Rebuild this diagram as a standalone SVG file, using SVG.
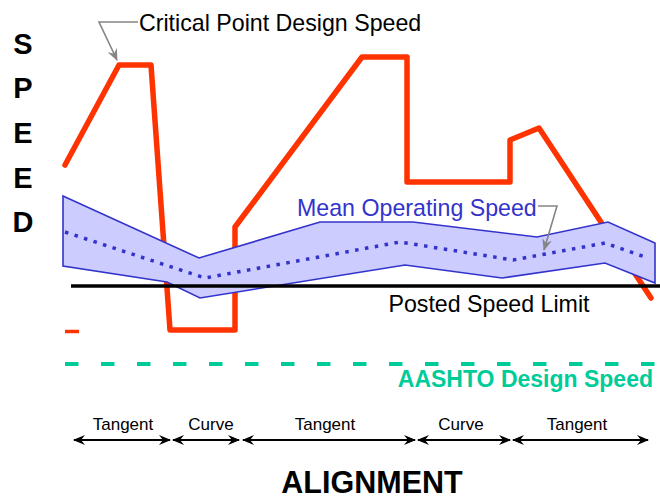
<svg xmlns="http://www.w3.org/2000/svg" width="660" height="498" viewBox="0 0 660 498">
<style>
.lbl{font-family:"Liberation Sans",Arial,sans-serif;fill:#000}
.axis{font-family:"Liberation Sans",Arial,sans-serif;font-weight:bold;fill:#000}
.seg{stroke:#000;stroke-width:2;fill:none;marker-start:url(#ah);marker-end:url(#ah)}
.lead{stroke:#858585;stroke-width:1.6;fill:none;marker-end:url(#gh)}
</style>
<defs>
<marker id="ah" viewBox="0 0 12 10" refX="11" refY="5" markerWidth="12" markerHeight="10" markerUnits="userSpaceOnUse" orient="auto-start-reverse">
<path d="M0,0 L12,5 L0,10 L4,5 z" fill="#000"/>
</marker>
<marker id="gh" viewBox="0 0 12 10" refX="11" refY="5" markerWidth="12" markerHeight="10" markerUnits="userSpaceOnUse" orient="auto">
<path d="M0,0 L12,5 L0,10 L4,5 z" fill="#858585"/>
</marker>
</defs>
<rect width="660" height="498" fill="#fff"/>

<g id="speed-axis">
<text class="axis" x="23" y="54" font-size="29" text-anchor="middle">S</text>
<text class="axis" x="23" y="98" font-size="29" text-anchor="middle">P</text>
<text class="axis" x="23" y="143" font-size="29" text-anchor="middle">E</text>
<text class="axis" x="23" y="188" font-size="29" text-anchor="middle">E</text>
<text class="axis" x="23" y="232" font-size="29" text-anchor="middle">D</text>
</g>

<g id="critical-point-speed">
<polyline points="65,165 119,65 151,65 170,330 235,330 235,227 362,57 407,57 407,182 510,182 510,140 539,128 651,298" fill="none" stroke="#ff3300" stroke-width="5.5" stroke-linejoin="round" stroke-linecap="round"/>
</g>

<g id="mean-operating-band">
<polygon points="63,196 199,258 320,222 413,222 537,237 608,222 655,243 655,283 605,263 502,278 405,265 200,298 167,282 63,266" fill="#ccccff" stroke="#3333cc" stroke-width="1.6" stroke-linejoin="miter"/>
<polyline points="65,232 205,278 400,242 513,260 605,243 648,258" fill="none" stroke="#3333cc" stroke-width="3.5" stroke-dasharray="3.5 6.5"/>
</g>

<g id="posted-speed">
<line x1="71" y1="286" x2="660" y2="286" stroke="#000" stroke-width="3.5"/>
<text class="lbl" x="489" y="312" font-size="23.2" text-anchor="middle">Posted Speed Limit</text>
</g>

<g id="legend-red-dash">
<line x1="65" y1="331.5" x2="79" y2="331.5" stroke="#ff3300" stroke-width="3.5"/>
</g>

<g id="aashto-speed">
<line x1="65" y1="364" x2="660" y2="364" stroke="#00cc99" stroke-width="4" stroke-dasharray="13.5 22.5"/>
<text x="653" y="387" font-family="Liberation Sans, Arial, sans-serif" font-weight="bold" font-size="23" fill="#00cc99" text-anchor="end">AASHTO Design Speed</text>
</g>

<g id="labels">
<text class="lbl" x="139" y="31" font-size="23.2">Critical Point Design Speed</text>
<text x="297" y="216" font-family="Liberation Sans, Arial, sans-serif" font-size="23.2" fill="#3333cc">Mean Operating Speed</text>
</g>

<g id="connectors">
<polyline class="lead" points="138,22 99,22 117,60"/>
<polyline class="lead" points="538,206 557,206 544,250"/>
<line class="seg" x1="74" y1="440" x2="170" y2="440"/>
<line class="seg" x1="173" y1="440" x2="239" y2="440"/>
<line class="seg" x1="243" y1="440" x2="415" y2="440"/>
<line class="seg" x1="418" y1="440" x2="510" y2="440"/>
<line class="seg" x1="513" y1="440" x2="648" y2="440"/>
</g>

<g id="alignment-labels">
<text class="lbl" x="123" y="430" font-size="17" text-anchor="middle">Tangent</text>
<text class="lbl" x="211" y="430" font-size="17" text-anchor="middle">Curve</text>
<text class="lbl" x="325" y="430" font-size="17" text-anchor="middle">Tangent</text>
<text class="lbl" x="461" y="430" font-size="17" text-anchor="middle">Curve</text>
<text class="lbl" x="577" y="430" font-size="17" text-anchor="middle">Tangent</text>
<text class="axis" x="372" y="493" font-size="30.5" text-anchor="middle">ALIGNMENT</text>
</g>
</svg>
